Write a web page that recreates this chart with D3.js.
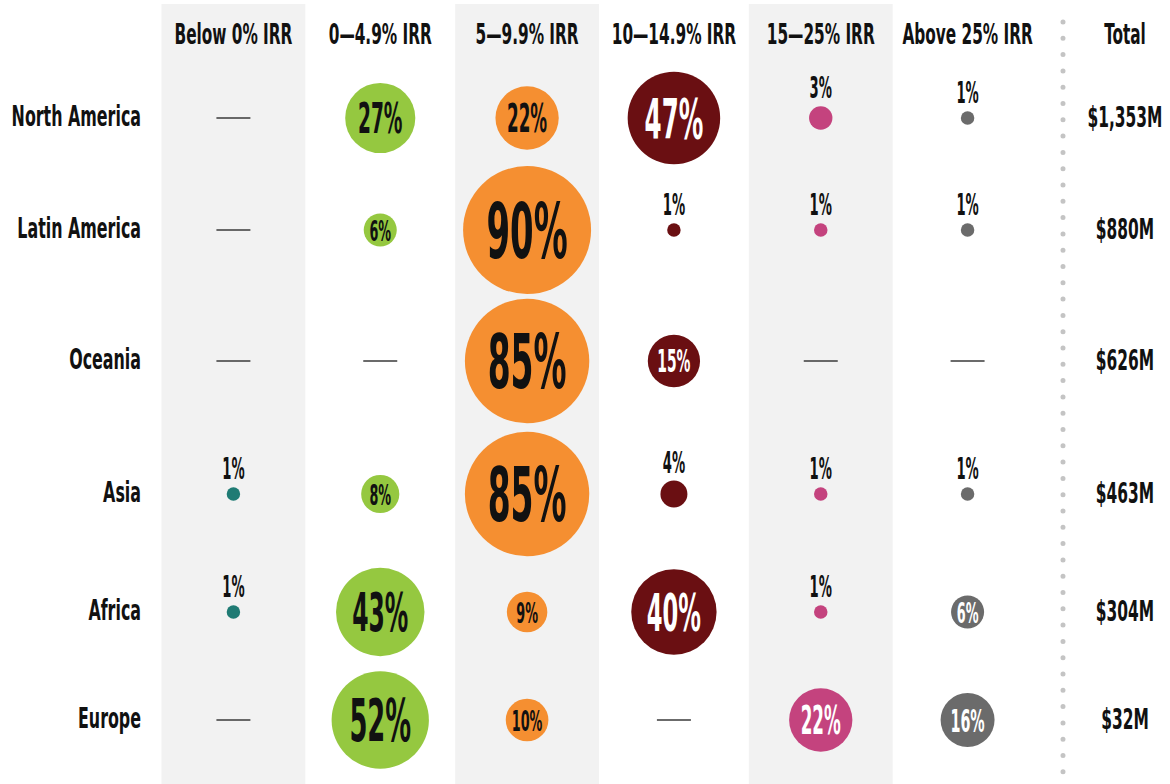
<!DOCTYPE html>
<html>
<head>
<meta charset="utf-8">
<script src="https://cdn.jsdelivr.net/npm/d3@7"></script>
<style>
  body { margin: 0; background: #fff; }
  text { font-family: "Liberation Sans Narrow", "DejaVu Sans Condensed", "Roboto", sans-serif; font-weight: bold; }
</style>
</head>
<body>
<div id="chart"></div>
<script>
// IRR buckets (columns) and regions (rows)
var columns = ["Below 0% IRR", "0—4.9% IRR", "5—9.9% IRR", "10—14.9% IRR", "15—25% IRR", "Above 25% IRR"];
var regions = ["North America", "Latin America", "Oceania", "Asia", "Africa", "Europe"];
var totals = ["$1,353M", "$880M", "$626M", "$463M", "$304M", "$32M"];

// share of each region's capital per IRR bucket (null = none)
var below0   = [null, null, null, 1, 1, null];
var irr0to5  = [27, 6, null, 8, 43, 52];
var irr5to10 = [22, 90, 85, 85, 9, 10];
var irr10to15 = [47, 1, 15, 4, 40, null];
var irr15to25 = [3, 1, null, 1, 1, 22];
var above25  = [1, 1, null, 1, 6, 16];

var series = [below0, irr0to5, irr5to10, irr10to15, irr15to25, above25];
var colors = ["#1f7b74", "#95c840", "#f58f31", "#6a0f12", "#c4437e", "#6b6b6b"];
var darkText = [false, true, true, false, false, false];

var width = 1170, height = 784;

var svg = d3.select("#chart").append("svg")
    .attr("width", width)
    .attr("height", height);

// scales
var x = d3.scaleBand().domain(columns).range([160, 1041]);
var y = d3.scaleOrdinal().domain(regions).range([118, 230, 361, 494, 612, 720]);
var r = d3.scaleSqrt().domain([0, 90]).range([0, 64]);
var totalX = 1125;

// measure how wide the font is, so text can be squeezed to look condensed
function squeeze(str, size, target) {
    var t = svg.append("text").attr("font-size", size).text(str);
    var w = t.node().getComputedTextLength();
    t.remove();
    return target / w;
}
var kWords = squeeze("Below 0% IRR", 28, 118);
var kNums = squeeze("27%", 40, 42);
var kTotals = squeeze("$1,353M", 28, 75);

function putText(g, str, px, py, size, k, anchor, fill) {
    return g.append("text")
        .attr("transform", "translate(" + px + "," + py + ") scale(" + k + ",1)")
        .attr("text-anchor", anchor || "middle")
        .attr("font-size", size)
        .attr("fill", fill || "#111")
        .text(str);
}

// shaded alternate columns
svg.append("g").selectAll("rect")
    .data(columns.filter(function(d, i) { return i % 2 === 0; }))
    .enter().append("rect")
    .attr("x", function(d) { return x(d) + 1.5; })
    .attr("y", 4)
    .attr("width", x.bandwidth() - 3)
    .attr("height", height - 4)
    .attr("fill", "#f2f2f2");

// dotted separator before totals
svg.append("line")
    .attr("x1", 1063).attr("x2", 1063)
    .attr("y1", 22).attr("y2", 780)
    .attr("stroke", "#c4c4c4")
    .attr("stroke-width", 5)
    .attr("stroke-linecap", "round")
    .attr("stroke-dasharray", "0 16.3");

// headers
var head = svg.append("g");
columns.forEach(function(c) {
    putText(head, c, x(c) + x.bandwidth() / 2, 44, 28, kWords);
});
putText(head, "Total", totalX, 44, 28, kWords);

// row labels and totals
var rows = svg.append("g");
regions.forEach(function(reg, i) {
    putText(rows, reg, 141, y(reg) + 8, 29, kWords, "end");
    putText(rows, totals[i], totalX, y(reg) + 9, 28, kTotals);
});

// bubbles
var cells = svg.append("g");
series.forEach(function(vals, ci) {
    var cx = x(columns[ci]) + x.bandwidth() / 2;
    vals.forEach(function(v, ri) {
        var cy = y(regions[ri]);
        if (v === null) {
            cells.append("line")
                .attr("x1", cx - 17).attr("x2", cx + 17)
                .attr("y1", cy).attr("y2", cy)
                .attr("stroke", "#3a3a3a")
                .attr("stroke-width", 1.6);
            return;
        }
        var rad = r(v);
        cells.append("circle")
            .attr("cx", cx).attr("cy", cy).attr("r", rad)
            .attr("fill", colors[ci]);
        if (v < 5) {
            putText(cells, v + "%", cx, cy - rad - 8, 30, kNums);
        } else {
            var cap = Math.max(21, 0.87 * rad);
            putText(cells, v + "%", cx, cy + cap / 2, cap / 0.72, kNums, "middle",
                darkText[ci] ? "#111" : "#fff");
        }
    });
});
</script>
</body>
</html>
